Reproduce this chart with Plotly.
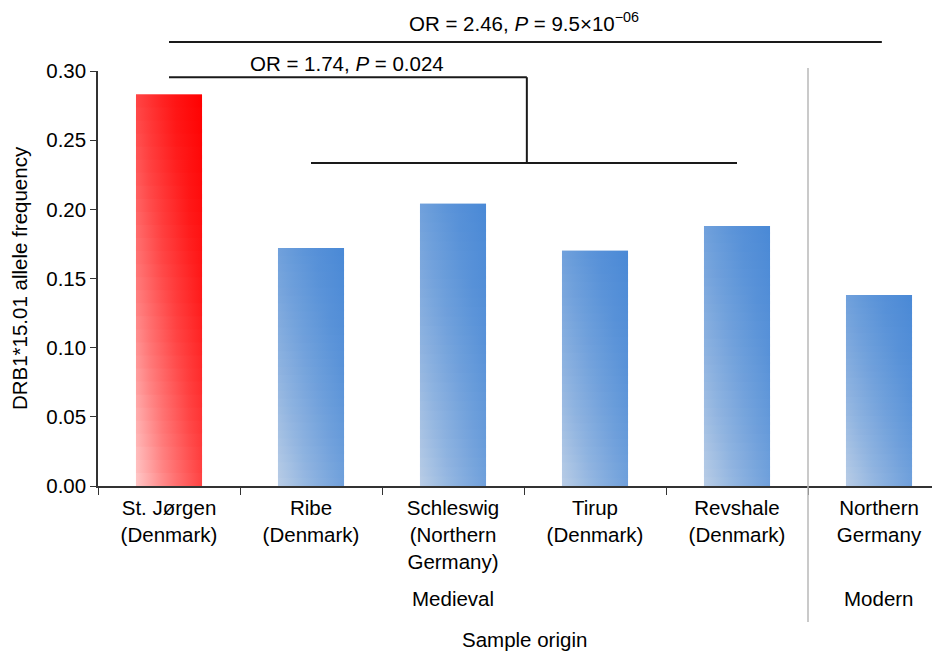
import numpy as np
import plotly.graph_objects as go

# ---------------- data ----------------
categories = [
    "St. Jørgen<br>(Denmark)",
    "Ribe<br>(Denmark)",
    "Schleswig<br>(Northern<br>Germany)",
    "Tirup<br>(Denmark)",
    "Revshale<br>(Denmark)",
    "Northern<br>Germany",
]
frequencies = [0.283, 0.172, 0.204, 0.170, 0.188, 0.138]
highlight = [True, False, False, False, False, False]
period_labels = ["Medieval", "Modern"]
period_centres = [2, 5]
y_ticks = [0.00, 0.05, 0.10, 0.15, 0.20, 0.25, 0.30]
comparison_labels = [
    "OR = 2.46, <i>P</i> = 9.5×10<sup>−06</sup>",
    "OR = 1.74, <i>P</i> = 0.024",
]

# ---------------- style ----------------
FONT = "Liberation Sans, Arial, Helvetica, sans-serif"
FS = 20.5
BAR_W = 0.465
Y_MAX = 0.30
RED = (255, 0, 0)
RED_PALE = (255, 250, 250)
BLUE = (74, 137, 214)
BLUE_PALE = (213, 222, 234)
N_STRIPS = 30
# paleness along the diagonal of each bar (0 = bottom-left, 1 = top-right)
T_STOPS = [0.0, 0.25, 0.5, 0.75, 1.0]
P_STOPS = [0.80, 0.50, 0.27, 0.10, 0.0]


def blend(base, pale, p):
    return "rgb(%d,%d,%d)" % tuple(round(b * (1 - p) + q * p) for b, q in zip(base, pale))


x_idx = list(range(len(categories)))
fig = go.Figure()

mid_colors = [blend(RED, RED_PALE, 0.3) if h else blend(BLUE, BLUE_PALE, 0.3) for h in highlight]
fig.add_trace(go.Bar(
    x=x_idx, y=frequencies, width=BAR_W,
    marker=dict(color=mid_colors, line=dict(width=0)),
    hovertemplate="%{y:.3f}<extra></extra>",
))

# diagonal gradient shading, built as stacked strips over each bar
for i, v in enumerate(frequencies):
    base, pale = (RED, RED_PALE) if highlight[i] else (BLUE, BLUE_PALE)
    xl, xr = i - BAR_W / 2, i + BAR_W / 2
    for k in range(N_STRIPS):
        y0 = v * k / N_STRIPS
        y1 = min(v, v * (k + 1.4) / N_STRIPS)
        yn = (k + 0.5) / N_STRIPS
        cs = []
        for xs in np.linspace(0, 1, 6):
            p = float(np.interp((xs + yn) / 2, T_STOPS, P_STOPS))
            cs.append([float(xs), blend(base, pale, p)])
        fig.add_trace(go.Scatter(
            x=[xl, xr, xr, xl, xl], y=[y0, y0, y1, y1, y0],
            mode="none", fill="toself",
            fillgradient=dict(type="horizontal", colorscale=cs, start=xl, stop=xr),
            hoverinfo="skip", showlegend=False,
        ))

# ---------------- comparison brackets ----------------
LINE = dict(color="#1a1a1a", width=2)
top_level, upper_level, lower_level = 0.321, 0.2955, 0.2335
stem_x = 2.52
shapes = [
    dict(type="line", xref="x", yref="paper", x0=0, x1=5.02, y0=top_level / Y_MAX, y1=top_level / Y_MAX, line=LINE),
    dict(type="line", xref="x", yref="paper", x0=0, x1=stem_x, y0=upper_level / Y_MAX, y1=upper_level / Y_MAX, line=LINE),
    dict(type="line", xref="x", yref="paper", x0=stem_x, x1=stem_x, y0=upper_level / Y_MAX, y1=lower_level / Y_MAX, line=LINE),
    dict(type="line", xref="x", yref="paper", x0=1, x1=4, y0=lower_level / Y_MAX, y1=lower_level / Y_MAX, line=LINE),
    # separator between medieval and modern samples
    dict(type="line", xref="x", yref="paper", x0=4.5, x1=4.5, y0=-0.328, y1=1.007,
         line=dict(color="#b8b8b8", width=1.5)),
]

annotations = [
    dict(text=comparison_labels[0], x=2.5, xref="x", y=1.118, yref="paper",
         showarrow=False, font=dict(size=FS), yanchor="middle"),
    dict(text=comparison_labels[1], x=1.25, xref="x", y=1.019, yref="paper",
         showarrow=False, font=dict(size=FS), yanchor="middle"),
    dict(text="Sample origin", x=2.5, xref="x", y=-0.371, yref="paper",
         showarrow=False, font=dict(size=FS), yanchor="middle"),
]
for lab, xc in zip(period_labels, period_centres):
    annotations.append(dict(text=lab, x=xc, xref="x", y=-0.27, yref="paper",
                            showarrow=False, font=dict(size=FS), yanchor="middle"))

# the page adds an 8px body margin, so the figure is 8px smaller than the window
fig.update_layout(
    width=932, height=646,
    margin=dict(l=90, r=0, t=63, b=168),
    plot_bgcolor="white", paper_bgcolor="white",
    showlegend=False,
    font=dict(family=FONT, size=FS, color="black"),
    shapes=shapes, annotations=annotations,
    xaxis=dict(
        type="linear", range=[-0.5, -0.5 + 842 / 142],
        tickmode="array", tickvals=x_idx, ticktext=categories,
        ticks="", showline=True, linecolor="#333333", linewidth=1.5,
        showgrid=False, zeroline=False,
        tickfont=dict(size=FS), ticklabelstandoff=3,
        minor=dict(tickmode="array", tickvals=[i - 0.5 for i in x_idx],
                   ticks="outside", ticklen=7, tickwidth=1.2, tickcolor="#333333",
                   showgrid=False),
    ),
    yaxis=dict(
        range=[0, Y_MAX], tickmode="array", tickvals=y_ticks,
        ticktext=["%.2f" % t for t in y_ticks],
        ticks="outside", ticklen=6, tickwidth=1.2, tickcolor="#333333",
        showline=True, linecolor="#333333", linewidth=1.5,
        showgrid=False, zeroline=False,
        tickfont=dict(size=FS),
        title=dict(text="DRB1*15.01 allele frequency", font=dict(size=FS), standoff=14),
    ),
)

fig.write_html("out.html")
